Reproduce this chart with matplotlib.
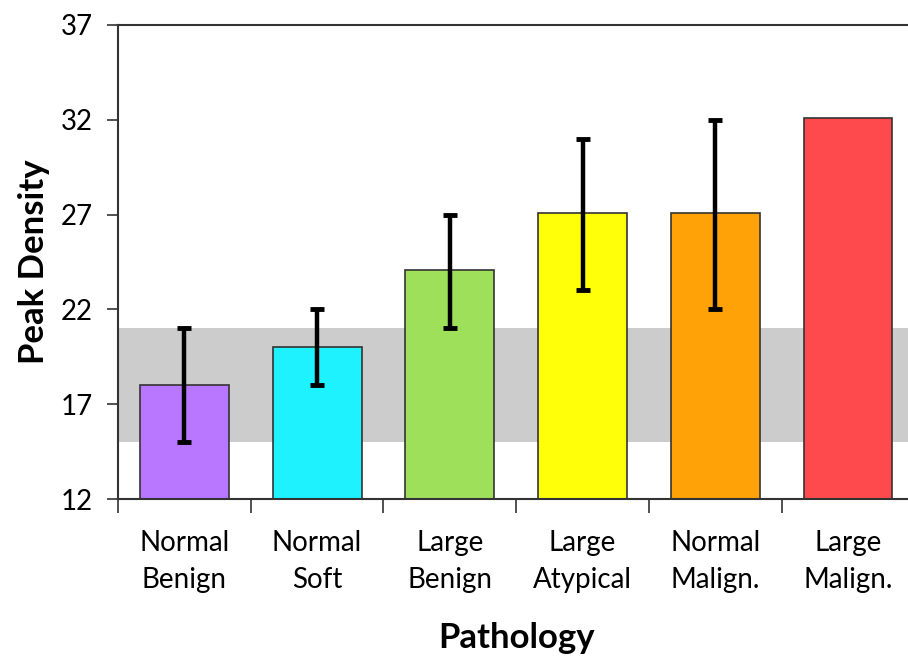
import matplotlib
matplotlib.use("Agg")
import matplotlib.pyplot as plt
import numpy as np

# --- data ---
categories = ["Normal\nBenign", "Normal\nSoft", "Large\nBenign",
              "Large\nAtypical", "Normal\nMalign.", "Large\nMalign."]
peak_density = [18, 20, 24.1, 27.1, 27.1, 32.1]
err_low = [15, 18, 21, 23, 22, None]
err_high = [21, 22, 27, 31, 32, None]
bar_colors = ["#B976FF", "#1EF2FF", "#9FE05A", "#FFFF0A", "#FFA207", "#FF4A4D"]
band_low, band_high = 15, 21
y_ticks = [12, 17, 22, 27, 32, 37]

plt.rcParams['font.family'] = ['Lato', 'DejaVu Sans']

fig = plt.figure(figsize=(9.08, 6.56), dpi=100)
ax = fig.add_axes([0.13, 0.2393, 0.877, 0.7226])

x = np.arange(len(categories))

# серая полоса нормы
ax.axhspan(band_low, band_high, color="#CCCCCC", zorder=0, lw=0)

ax.bar(x, [v - 12 for v in peak_density], bottom=12, width=0.67,
       color=bar_colors, edgecolor="#333333", linewidth=1.2, zorder=2)

for xi, v, lo, hi in zip(x, peak_density, err_low, err_high):
    if lo is None:
        continue
    ax.errorbar([xi], [v], yerr=[[v - lo], [hi - v]], fmt="none",
                ecolor="black", elinewidth=3.2, capsize=5, capthick=3.5,
                zorder=3)

ax.set_xlim(-0.5, len(categories) - 0.5)
ax.set_ylim(12, 37)
ax.set_yticks(y_ticks)
ax.set_xticks(x)
ax.set_xticklabels(categories, fontsize=20, linespacing=1.55)
ax.tick_params(axis="x", length=0, pad=22)
ax.set_xticks(np.arange(len(categories) + 1) - 0.5, minor=True)
ax.tick_params(axis="x", which="minor", length=10, width=1.2, color="#333333")
ax.tick_params(axis="y", labelsize=20, length=8, width=1.2, color="#333333", pad=10)

for side in ["left", "bottom", "top"]:
    ax.spines[side].set_color("#333333")
    ax.spines[side].set_linewidth(1.5)
ax.spines["right"].set_visible(False)

ax.set_xlabel("Pathology", fontsize=25, fontweight="bold", labelpad=21)
ax.set_ylabel("Peak Density", fontsize=25, fontweight="bold", labelpad=8)

fig.savefig("out.png", dpi=100, facecolor="white")
